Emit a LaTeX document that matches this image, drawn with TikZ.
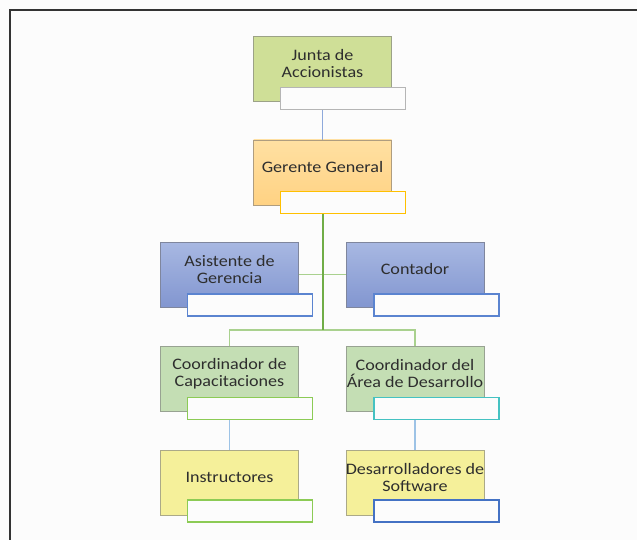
\documentclass[tikz,border=0pt]{standalone}
\usepackage{fontspec}
\setmainfont{Carlito}[FakeStretch=1.13]
\begin{document}
\begin{tikzpicture}[x=1pt,y=-1pt,
  box/.style={draw=#1!55!black!70, line width=0.8pt, minimum width=138pt, minimum height=65pt, inner sep=0pt},
  lbl/.style={align=center, text=black!82, font=\fontsize{16}{16.5}\selectfont, inner sep=0pt},
  tag/.style={draw=#1, line width=1.5pt, fill=white!99!black, minimum width=125pt, minimum height=22pt, inner sep=0pt},
  link/.style={line width=1.2pt, draw=#1}]
\definecolor{olive}{HTML}{CFDF97}
\definecolor{orangeT}{HTML}{FFE0A2}
\definecolor{orangeB}{HTML}{FFD283}
\definecolor{blueT}{HTML}{A8B8E2}
\definecolor{blueB}{HTML}{8296D0}
\definecolor{sage}{HTML}{C4DEB4}
\definecolor{lemon}{HTML}{F5F09A}
\definecolor{lnblue}{HTML}{8EA9DB}
\definecolor{lnsky}{HTML}{9DC3E6}
\definecolor{lngreen}{HTML}{70AD47}
\definecolor{lnlight}{HTML}{A9D18E}
\definecolor{tgray}{HTML}{B5B5B5}
\definecolor{tgold}{HTML}{FFC000}
\definecolor{tblue}{HTML}{5B84D0}
\definecolor{tgreen}{HTML}{8CCB55}
\definecolor{tteal}{HTML}{45C2C2}
\definecolor{tnavy}{HTML}{4472C4}
\useasboundingbox (0,0) rectangle (637,540);
\fill[black!1] (0,0) rectangle (637,540);
% page frame
\draw[black!80, line width=1.6pt] (10,540) -- (10,10) -- (637,10);

% boxes
\node[box=olive, fill=olive] (junta) at (322.5,68.5) {};
\node[box=orangeB, top color=orangeT, bottom color=orangeB] (gerente) at (322.5,172.5) {};
\node[box=blueB, top color=blueT, bottom color=blueB] (asis) at (229.5,274.5) {};
\node[box=blueB, top color=blueT, bottom color=blueB] (cont) at (415,274.5) {};
\node[box=sage, fill=sage] (cap) at (229.5,378.5) {};
\node[box=sage, fill=sage] (dev) at (415,378.5) {};
\node[box=lemon, fill=lemon] (inst) at (229.5,482.5) {};
\node[box=lemon, fill=lemon] (soft) at (415,482.5) {};

% connectors
\coordinate (branch) at (322.5,330);
\draw[link=lnblue] (junta.south) -- (gerente.north);
\draw[link=lnlight] (asis.east) -- (cont.west);
\draw[link=lnlight] (cap.north) |- (branch) -| (dev.north);
\draw[link=lngreen, line width=2pt] (gerente.south) -- (branch);
\draw[link=lnsky] (cap.south) -- (inst.north);
\draw[link=lnsky] (dev.south) -- (soft.north);

% labels
\node[lbl] (juntaT) at ([yshift=5pt]junta.center) {Junta de\\Accionistas};
\node[lbl] (gerenteT) at ([yshift=5pt]gerente.center) {Gerente General};
\node[lbl] (asisT) at ([yshift=5pt]asis.center) {Asistente de\\Gerencia};
\node[lbl] (contT) at ([yshift=5pt]cont.center) {Contador};
\node[lbl] (capT) at ([yshift=5pt]cap.center) {Coordinador de\\Capacitaciones};
\node[lbl] (devT) at ([yshift=5pt]dev.center) {Coordinador del\\Área de Desarrollo};
\node[lbl] (instT) at ([yshift=5pt]inst.center) {Instructores};
\node[lbl] (softT) at ([yshift=5pt]soft.center) {Desarrolladores de\\Software};

% name tags
\node[tag=tgray] (juntaG) at ([shift={(20.5,30)}]junta.center) {};
\node[tag=tgold] (gerenteG) at ([shift={(20.5,30)}]gerente.center) {};
\node[tag=tblue] (asisG) at ([shift={(20.5,30.5)}]asis.center) {};
\node[tag=tblue] (contG) at ([shift={(21.5,30.5)}]cont.center) {};
\node[tag=tgreen] (capG) at ([shift={(20.5,30)}]cap.center) {};
\node[tag=tteal] (devG) at ([shift={(21.5,30)}]dev.center) {};
\node[tag=tgreen] (instG) at ([shift={(20.5,28.5)}]inst.center) {};
\node[tag=tnavy] (softG) at ([shift={(21.5,28.5)}]soft.center) {};
\end{tikzpicture}
\end{document}
